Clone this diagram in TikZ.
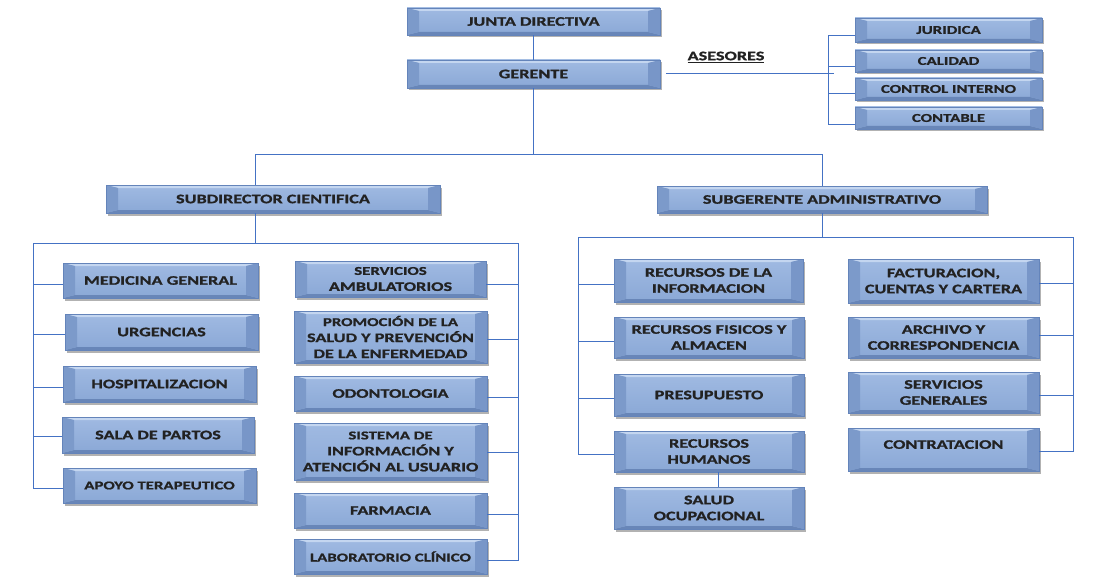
\documentclass[tikz,border=0pt]{standalone}
\usepackage{fontspec}
\setmainfont[FakeStretch=1.4, BoldFeatures={FakeBold=1}]{Carlito}
\usetikzlibrary{calc,shadows}
\definecolor{ln}{RGB}{68,114,196}
\definecolor{boxtop}{RGB}{160,186,226}
\definecolor{boxbot}{RGB}{138,168,214}
\definecolor{facetop}{RGB}{196,214,240}
\definecolor{facebot}{RGB}{104,134,184}
\definecolor{faceleft}{RGB}{124,154,202}
\definecolor{faceright}{RGB}{120,150,200}
\definecolor{boxedge}{RGB}{100,132,186}
\definecolor{txt}{RGB}{34,34,34}
\newcommand\boxfont{\fontsize{13}{16}\selectfont\bfseries}
\newcommand\sm{\fontsize{12}{15}\selectfont}
\tikzset{
  conn/.style={draw=ln, line width=1pt},
  bx/.style={draw=boxedge, line width=0.5pt, top color=boxtop, bottom color=boxbot, inner sep=0pt,
    align=center, text=txt, font=\boxfont,
    drop shadow={shadow xshift=2pt, shadow yshift=-2.5pt, opacity=0.3, fill=black},
    path picture={
      \path (path picture bounding box.north west) coordinate (@nw)
            (path picture bounding box.north east) coordinate (@ne)
            (path picture bounding box.south west) coordinate (@sw)
            (path picture bounding box.south east) coordinate (@se);
      \fill[facetop] (@nw) -- (@ne) -- ([shift={(-12pt,-3pt)}]@ne) -- ([shift={(12pt,-3pt)}]@nw) -- cycle;
      \fill[facebot] (@sw) -- (@se) -- ([shift={(-12pt,3pt)}]@se) -- ([shift={(12pt,3pt)}]@sw) -- cycle;
      \fill[faceleft] (@nw) -- ([shift={(12pt,-3pt)}]@nw) -- ([shift={(12pt,3pt)}]@sw) -- (@sw) -- cycle;
      \fill[faceright] (@ne) -- ([shift={(-12pt,-3pt)}]@ne) -- ([shift={(-12pt,3pt)}]@se) -- (@se) -- cycle;
    }},
  lbl/.style={font=\boxfont, text=txt, inner sep=0pt}
}
\newcommand\obox[6]{\node[bx, minimum width={#4-#2}, minimum height={#5-#3}] (#1) at ({(#2+#4)/2},{(#3+#5)/2}) {#6};}
\begin{document}
\begin{tikzpicture}[x=1pt,y=-1pt]
\fill[white] (0,0) rectangle (1107,588);
\useasboundingbox (0,0) rectangle (1107,588);

% boxes
\obox{junta}{407}{8}{660}{35}{JUNTA DIRECTIVA}
\obox{gerente}{407}{60}{660}{88}{GERENTE}
\obox{juridica}{855}{18}{1042}{42}{\sm JURIDICA}
\obox{calidad}{855}{50}{1042}{72}{\sm CALIDAD}
\obox{control}{855}{78}{1042}{100}{\sm CONTROL INTERNO}
\obox{contable}{855}{107}{1042}{129}{\sm CONTABLE}
\obox{subdir}{106}{185}{440}{213}{SUBDIRECTOR CIENTIFICA}
\obox{subger}{657}{186}{987}{213}{SUBGERENTE ADMINISTRATIVO}

\obox{med}{63}{263}{258}{298}{MEDICINA GENERAL}
\obox{urg}{65}{314}{258}{350}{URGENCIAS}
\obox{hosp}{63}{366}{256}{402}{HOSPITALIZACION}
\obox{sala}{62}{417}{254}{453}{SALA DE PARTOS}
\obox{apoyo}{63}{468}{256}{503}{\sm APOYO TERAPEUTICO}

\obox{serv}{295}{261}{486}{297}{\sm SERVICIOS\\AMBULATORIOS}
\obox{prom}{294}{311}{487}{363}{\sm PROMOCIÓN DE LA\\SALUD Y PREVENCIÓN\\DE LA ENFERMEDAD}
\obox{odon}{294}{376}{487}{411}{ODONTOLOGIA}
\obox{sist}{294}{423}{487}{480}{\sm SISTEMA DE\\INFORMACIÓN Y\\ATENCIÓN AL USUARIO}
\obox{farm}{294}{493}{487}{528}{FARMACIA}
\obox{lab}{294}{539}{487}{574}{\sm LABORATORIO CLÍNICO}

\obox{rinfo}{614}{259}{803}{302}{RECURSOS DE LA\\INFORMACION}
\obox{rfis}{614}{317}{804}{358}{RECURSOS FISICOS Y\\ALMACEN}
\obox{presu}{614}{374}{804}{416}{PRESUPUESTO}
\obox{rhum}{614}{431}{804}{472}{RECURSOS\\HUMANOS}
\obox{salud}{614}{487}{804}{529}{SALUD\\OCUPACIONAL}

\obox{fact}{848}{259}{1039}{303}{FACTURACION,\\CUENTAS Y CARTERA}
\obox{arch}{848}{317}{1039}{358}{ARCHIVO Y\\CORRESPONDENCIA}
\obox{sgen}{848}{372}{1039}{413}{SERVICIOS\\GENERALES}
\obox{contr}{848}{428}{1039}{471}{\raisebox{10pt}{CONTRATACION}}

\node[lbl] (ases) at (726,57) {\underline{ASESORES}};

% coordinates
\coordinate (trunk) at (539,155);
\coordinate (asbus) at (828,75);
\coordinate (lTL) at (33,243);
\coordinate (lTR) at (518,243);
\coordinate (rTL) at (578,237);
\coordinate (rTR) at (1073,237);

% top connectors
\draw[conn] (junta) -- (gerente);
\draw[conn] (gerente.south) -- (gerente.south |- trunk);
\draw[conn] ([xshift=-18pt]subdir.north) -- ([xshift=-18pt]subdir.north |- trunk) -- (subger.north |- trunk) -- (subger.north);

% asesores
\draw[conn] ([xshift=6pt]gerente.east) -- ([xshift=6pt]gerente.east -| asbus);
\draw[conn] ([yshift=-6pt]juridica.west) -- ([yshift=-6pt]juridica.west -| asbus) -- ([yshift=-7pt]contable.west -| asbus) -- ([yshift=-7pt]contable.west);
\draw[conn] ([yshift=-6pt]calidad.west -| asbus) -- ([yshift=-6pt]calidad.west);
\draw[conn] ([yshift=-5pt]control.west -| asbus) -- ([yshift=-5pt]control.west);

% left block
\draw[conn] ([xshift=-18pt]subdir.south) -- ([xshift=-18pt]subdir.south |- lTL);
\draw[conn] ([yshift=-3pt]apoyo.west) -- ([yshift=-3pt]apoyo.west -| lTL) -- (lTL) -- (lTR) -- ([yshift=-4pt]lab.east -| lTR) -- ([yshift=-4pt]lab.east);
\foreach \b/\s in {med/-4,urg/-2,hosp/-3,sala/-1}
  \draw[conn] ([yshift=\s pt]\b.west -| lTL) -- ([yshift=\s pt]\b.west);
\foreach \b/\s in {serv/-5,prom/-2,odon/-4,sist/-1,farm/-4}
  \draw[conn] ([yshift=\s pt]\b.east -| lTR) -- ([yshift=\s pt]\b.east);

% right block
\draw[conn] (subger.south) -- (subger.south |- rTL);
\draw[conn] ([yshift=-3pt]rhum.west) -- ([yshift=-3pt]rhum.west -| rTL) -- (rTL) -- (rTR) -- ([yshift=-2pt]contr.east -| rTR) -- ([yshift=-2pt]contr.east);
\foreach \b/\s in {rinfo/-4,rfis/-4,presu/-3}
  \draw[conn] ([yshift=\s pt]\b.west -| rTL) -- ([yshift=\s pt]\b.west);
\foreach \b/\s in {fact/-2,arch/2,sgen/-3}
  \draw[conn] ([yshift=\s pt]\b.east -| rTR) -- ([yshift=\s pt]\b.east);
\draw[conn] ([xshift=9pt]rhum.south) -- ([xshift=9pt]salud.north);
\end{tikzpicture}
\end{document}
